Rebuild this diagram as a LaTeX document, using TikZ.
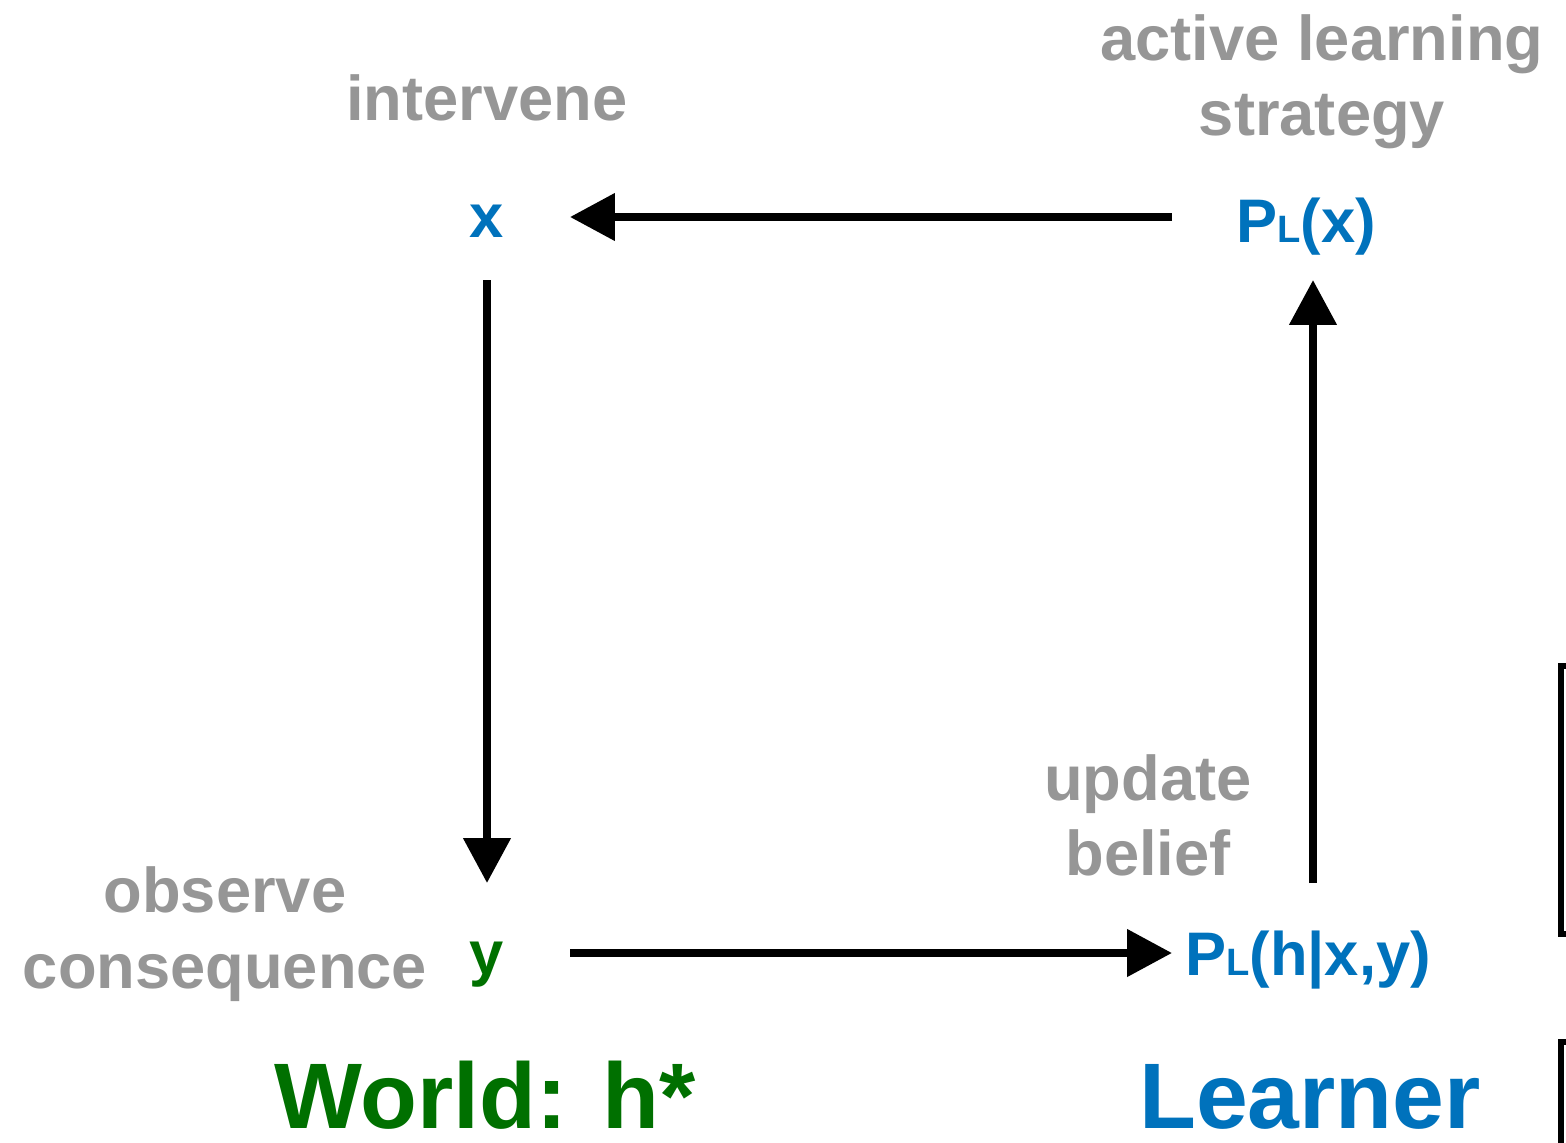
\documentclass[tikz,border=0pt]{standalone}
\usepackage{fontspec}
\setmainfont{Liberation Sans}
\usetikzlibrary{arrows.meta}
\definecolor{labelgray}{RGB}{150,150,150}
\definecolor{learnblue}{RGB}{0,114,188}
\definecolor{worldgreen}{RGB}{0,112,0}
\newcommand{\PL}{P\scalebox{0.62}{L}}
\tikzset{
  note/.style={anchor=base, inner sep=0pt, text=labelgray,
    font=\fontsize{36}{43}\selectfont\bfseries},
  var/.style={anchor=base, inner sep=0pt,
    font=\fontsize{35}{42}\selectfont\bfseries},
  title/.style={anchor=base, inner sep=0pt,
    font=\fontsize{53}{60}\selectfont\bfseries},
  arr/.style={line width=4.5pt,
    -{Triangle[length=0.9cm,width=0.92cm]}},
  bracket/.style={line width=3.3pt}
}
\begin{document}
\begin{tikzpicture}[x=0.02cm,y=-0.02cm]
\useasboundingbox (0,0) rectangle (1566,1143);

% step labels
\node[note] (al1) at (1322,60) {active learning};
\node[note] (al2) at (1322,135) {strategy};
\node[note] (iv)  at (487,120) {intervene};
\node[note] (ub1) at (1148,800) {update};
\node[note] (ub2) at (1148,875) {belief};
\node[note] (oc1) at (225,912) {observe};
\node[note] (oc2) at (225,988) {consequence};

% quantities in the loop
\node[var, text=learnblue]  (x)   at (487,237)  {x};
\node[var, text=learnblue]  (px)  at (1306,242) {\PL(x)};
\node[var, text=worldgreen] (y)   at (487,974)  {y};
\node[var, text=learnblue]  (phy) at (1308,975) {\PL(h|x,y)};

% panel titles
\node[title, text=worldgreen] (world) at (485,1128) {World: h*};
\node[title, text=learnblue]  (learner) at (1310,1128) {Learner};

% arrow end points
\coordinate (pxL) at (1172,217);
\coordinate (xR)  at (570,217);
\coordinate (xB)  at (487,280);
\coordinate (yT)  at (487,883);
\coordinate (yR)  at (570,953);
\coordinate (phyL) at (1172,953);
\coordinate (phyT) at (1313,883);
\coordinate (pxB) at (1313,280);

\draw[arr] (pxL) -- (xR);
\draw[arr] (xB) -- (yT);
\draw[arr] (yR) -- (phyL);
\draw[arr] (phyT) -- (pxB);

% brackets at the right edge
\draw[bracket] (1570,666) -- (1561,666) -- (1561,934) -- (1570,934);
\draw[bracket] (1570,1042) -- (1561,1042) -- (1561,1150);
\end{tikzpicture}
\end{document}
